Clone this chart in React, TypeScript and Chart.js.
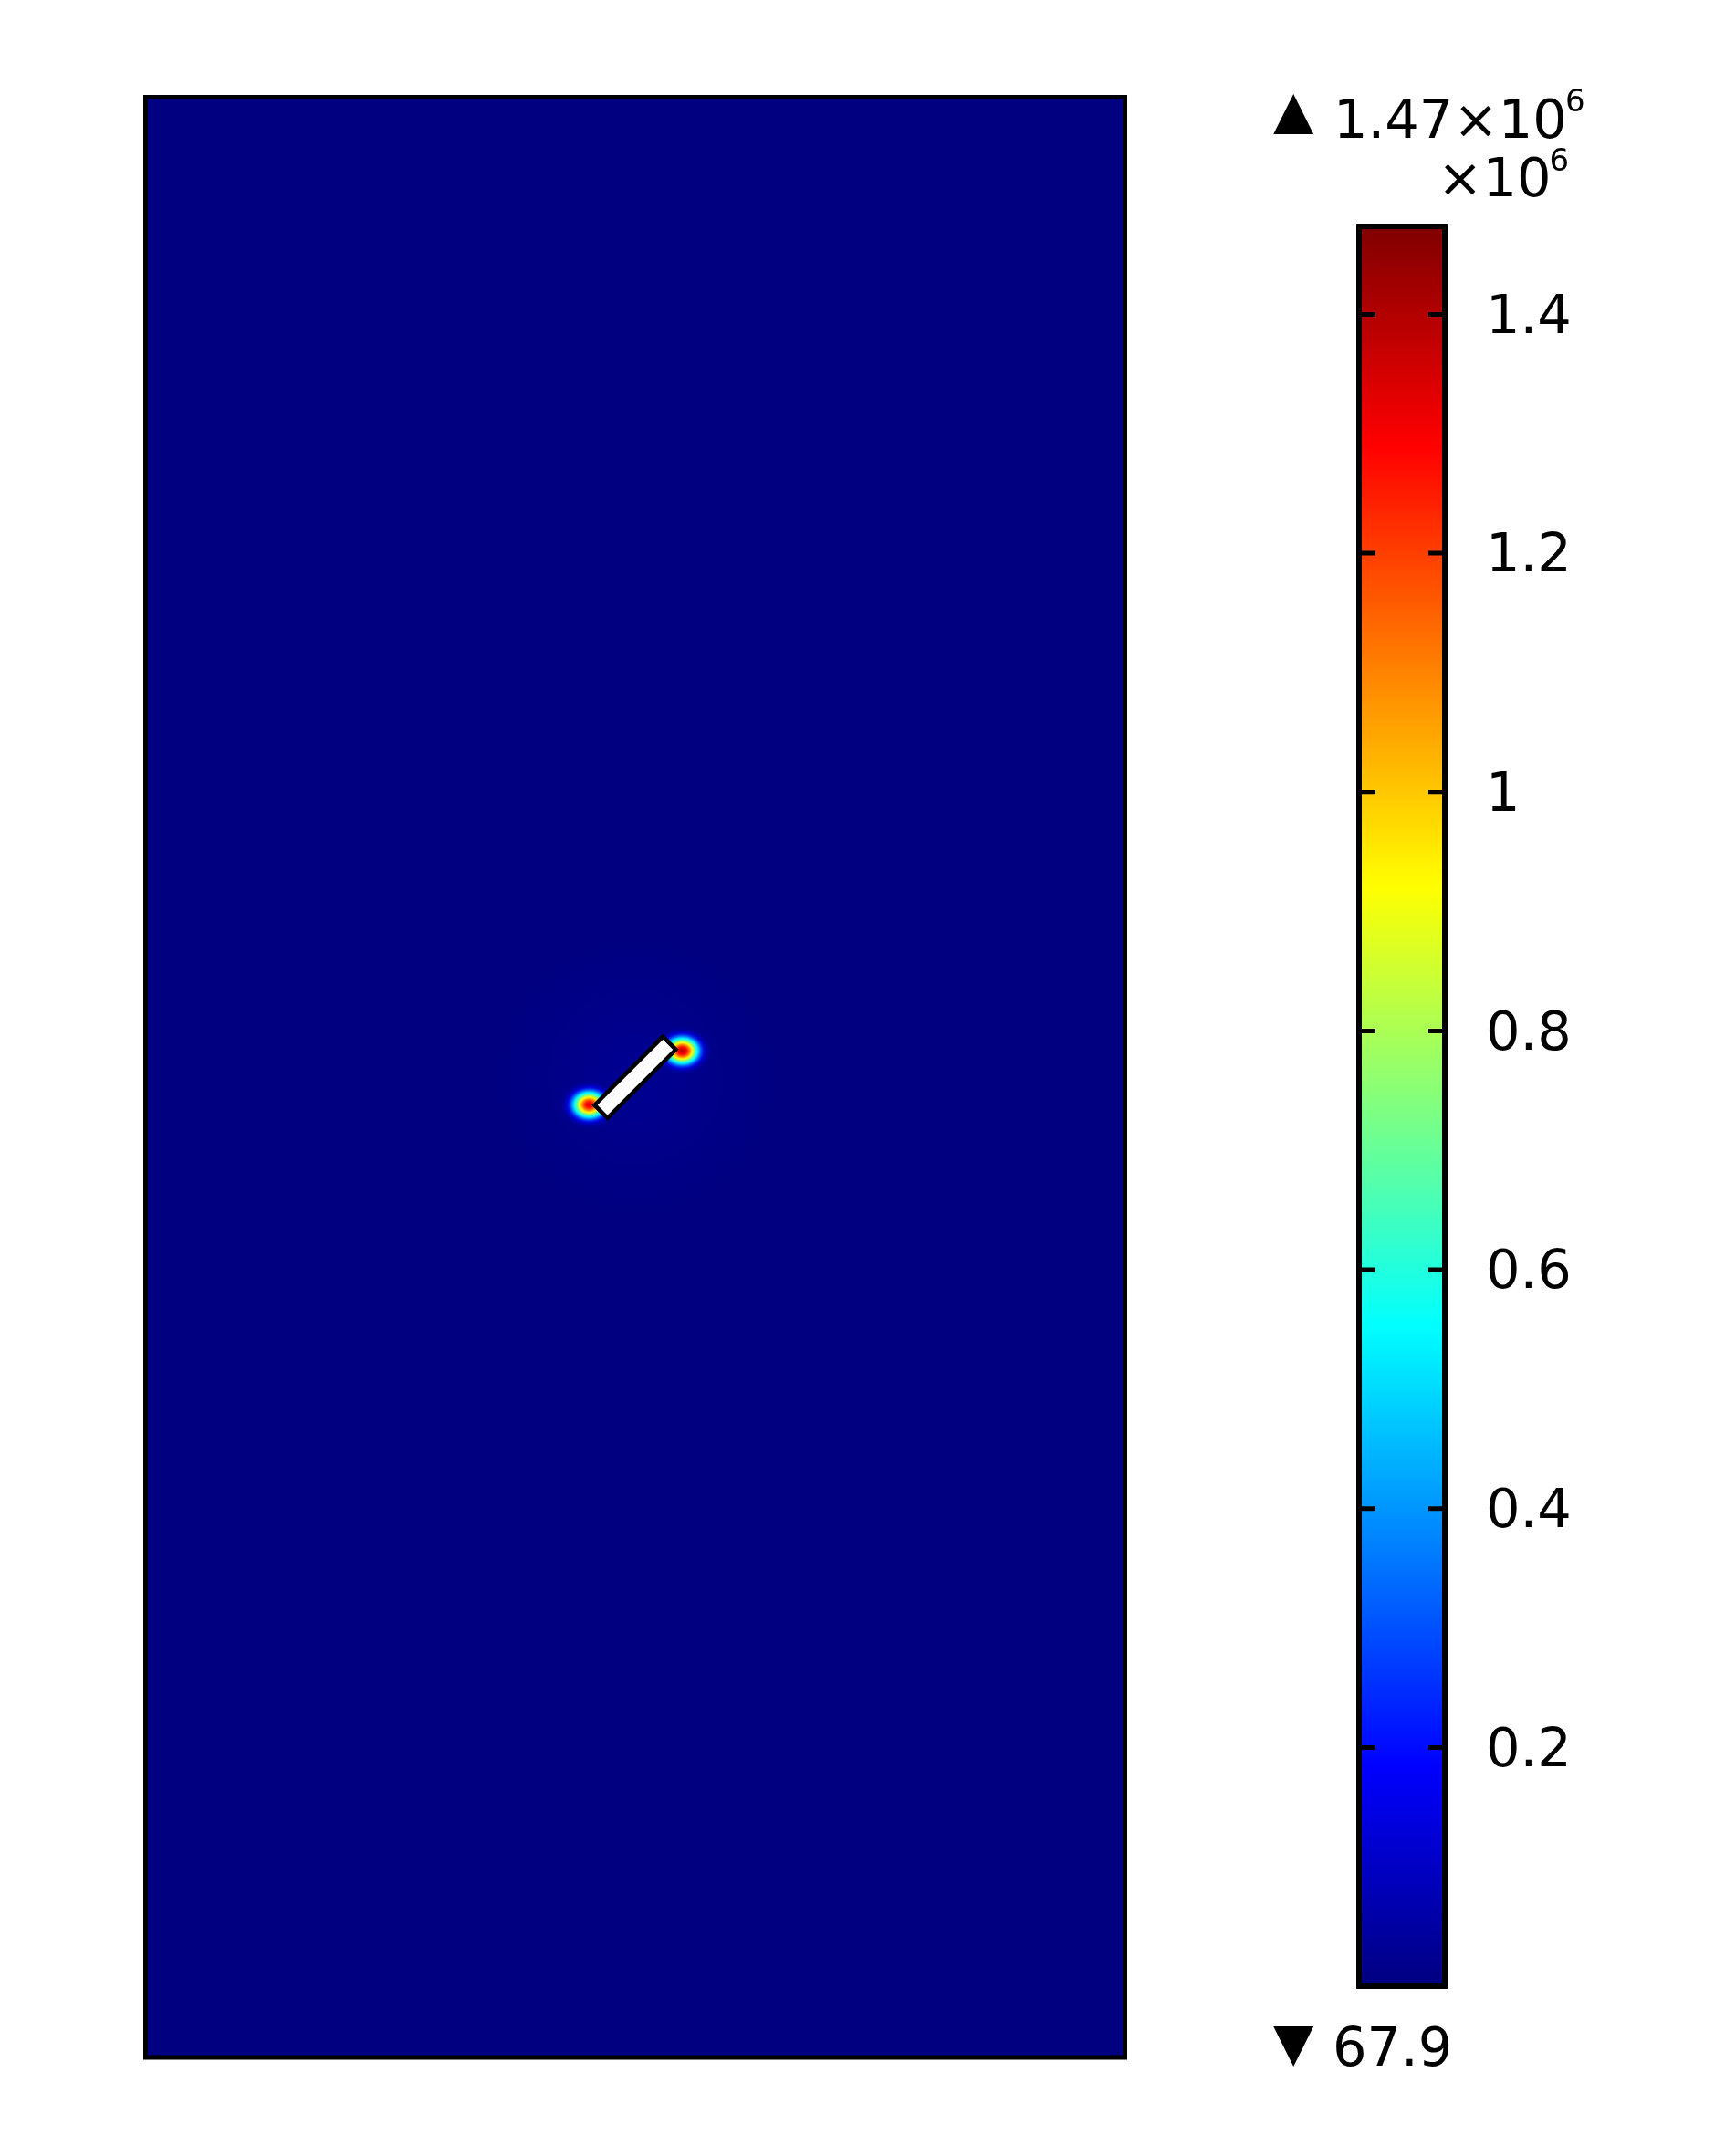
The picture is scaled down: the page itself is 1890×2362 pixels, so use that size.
import React, { useEffect, useRef } from "react";
import { Chart, registerables } from "chart.js";

Chart.register(...registerables);

// ---------- data ----------
// model domain (data units)
const X_MIN = -0.5;
const X_MAX = 0.5;
const Y_MIN = -1;
const Y_MAX = 1;

// inclined crack (rectangle corners: top, right, bottom, left)
const CRACK_X = [0.0283, 0.0415, -0.0283, -0.0415];
const CRACK_Y = [0.0415, 0.0283, -0.0415, -0.0283];

// stress concentrations (weak far-field halo + crack tips)
const SPOT_X = [0, 0.048, -0.047];
const SPOT_Y = [0, 0.027, -0.028];
const SPOT_PEAK = [0.025e6, 1.38e6, 1.32e6];
const SPOT_RX = [0.2, 0.032, 0.032];
const SPOT_RY = [0.2, 0.026, 0.026];

const FIELD_BASE = 67.9;

// colour legend
const CB_MIN = 67.9;
const CB_MAX = 1.4737e6;
const CB_TICKS = [0.2e6, 0.4e6, 0.6e6, 0.8e6, 1.0e6, 1.2e6, 1.4e6];
const CB_TICK_LABELS = ["0.2", "0.4", "0.6", "0.8", "1", "1.2", "1.4"];
const MAX_LABEL = "1.47×10";
const EXP_UNIT = "×10";
const EXP_POWER = "6";
const MIN_LABEL = "67.9";

// ---------- helpers ----------
const W = 1890;
const H = 2362;
const FONT = "'DejaVu Sans', sans-serif";

function clamp01(v: number) {
  return Math.max(0, Math.min(1, v));
}
function jet(t: number, a = 1) {
  t = clamp01(t);
  const r = clamp01(1.5 - Math.abs(4 * t - 3));
  const g = clamp01(1.5 - Math.abs(4 * t - 2));
  const b = clamp01(1.5 - Math.abs(4 * t - 1));
  return `rgba(${Math.round(r * 255)},${Math.round(g * 255)},${Math.round(b * 255)},${a})`;
}
const norm = (v: number) => (v - CB_MIN) / (CB_MAX - CB_MIN);

const fieldPlugin = {
  id: "field",
  beforeDatasetsDraw(chart: any) {
    const { ctx, chartArea: a, scales } = chart;
    const xs = scales.x;
    const ys = scales.y;
    ctx.save();
    ctx.beginPath();
    ctx.rect(a.left, a.top, a.right - a.left, a.bottom - a.top);
    ctx.clip();
    ctx.fillStyle = jet(norm(FIELD_BASE));
    ctx.fillRect(a.left, a.top, a.right - a.left, a.bottom - a.top);
    SPOT_X.forEach((sx, i) => {
      const cx = xs.getPixelForValue(sx);
      const cy = ys.getPixelForValue(SPOT_Y[i]);
      const rx = Math.abs(xs.getPixelForValue(sx + SPOT_RX[i]) - cx);
      const ry = Math.abs(ys.getPixelForValue(SPOT_Y[i] + SPOT_RY[i]) - cy);
      ctx.save();
      ctx.translate(cx, cy);
      ctx.scale(1, ry / rx);
      const g = ctx.createRadialGradient(0, 0, 0, 0, 0, rx);
      const N = 48;
      for (let k = 0; k <= N; k++) {
        const t = k / N;
        const f = Math.exp(-Math.pow(t / 0.5, 2));
        const v = FIELD_BASE + (SPOT_PEAK[i] - FIELD_BASE) * f;
        g.addColorStop(t, jet(norm(v), clamp01((1 - t) / 0.45)));
      }
      ctx.fillStyle = g;
      ctx.beginPath();
      ctx.arc(0, 0, rx, 0, Math.PI * 2);
      ctx.fill();
      ctx.restore();
    });
    ctx.restore();
  },
  afterDraw(chart: any) {
    const { ctx, chartArea: a } = chart;
    ctx.save();
    ctx.strokeStyle = "#000";
    ctx.lineWidth = 5;
    ctx.strokeRect(a.left, a.top, a.right - a.left, a.bottom - a.top);
    ctx.restore();
  },
};

function drawGlyphAt(ctx: any, text: string, size: number, left: number, bottom: number, fitW?: number) {
  let s = size;
  ctx.font = `${s}px ${FONT}`;
  let m = ctx.measureText(text);
  if (fitW) {
    const w = m.actualBoundingBoxLeft + m.actualBoundingBoxRight;
    s = (size * fitW) / w;
    ctx.font = `${s}px ${FONT}`;
    m = ctx.measureText(text);
  }
  const x = left + m.actualBoundingBoxLeft;
  const y = bottom - m.actualBoundingBoxDescent;
  ctx.fillText(text, x, y);
  return x + m.width;
}

const colorbarPlugin = {
  id: "colorbar",
  afterDatasetsDraw(chart: any) {
    const { ctx, chartArea: a, scales } = chart;
    const ys = scales.y;
    ctx.save();
    ctx.strokeStyle = "#000";
    ctx.lineWidth = 5;
    CB_TICKS.forEach((v) => {
      const y = ys.getPixelForValue(v);
      ctx.beginPath();
      ctx.moveTo(a.left, y);
      ctx.lineTo(a.left + 18, y);
      ctx.moveTo(a.right - 18, y);
      ctx.lineTo(a.right, y);
      ctx.stroke();
    });
    ctx.lineWidth = 6;
    ctx.strokeRect(a.left, a.top, a.right - a.left, a.bottom - a.top);
    ctx.restore();
  },
  afterDraw(chart: any) {
    const { ctx } = chart;
    ctx.save();
    ctx.fillStyle = "#000";
    ctx.textAlign = "left";
    ctx.textBaseline = "alphabetic";
    // top: max value
    drawGlyphAt(ctx, "▲", 59, 1395, 148, 45);
    ctx.font = `59px ${FONT}`;
    let m = ctx.measureText(MAX_LABEL);
    let x = 1467 + m.actualBoundingBoxLeft;
    ctx.fillText(MAX_LABEL, x, 151);
    let xe = x + m.width;
    ctx.font = `34px ${FONT}`;
    ctx.fillText(EXP_POWER, xe - 2, 122);
    // multiplier line
    ctx.font = `59px ${FONT}`;
    m = ctx.measureText(EXP_UNIT);
    x = 1583 + m.actualBoundingBoxLeft;
    ctx.fillText(EXP_UNIT, x, 215);
    xe = x + m.width;
    ctx.font = `34px ${FONT}`;
    ctx.fillText(EXP_POWER, xe - 2, 187);
    // bottom: min value
    drawGlyphAt(ctx, "▼", 59, 1395, 2265, 45);
    ctx.font = `59px ${FONT}`;
    m = ctx.measureText(MIN_LABEL);
    ctx.fillText(MIN_LABEL, 1464 + m.actualBoundingBoxLeft, 2263);
    ctx.restore();
  },
};

export default function App() {
  const fieldRef = useRef<HTMLCanvasElement>(null);
  const cbRef = useRef<HTMLCanvasElement>(null);

  useEffect(() => {
    const crackPts = CRACK_X.map((x, i) => ({ x, y: CRACK_Y[i] }));
    crackPts.push({ ...crackPts[0] });

    const field = new Chart(fieldRef.current as HTMLCanvasElement, {
      type: "scatter",
      data: {
        datasets: [
          {
            data: crackPts,
            showLine: true,
            fill: "shape",
            backgroundColor: "#ffffff",
            borderColor: "#000000",
            borderWidth: 4.5,
            borderCapStyle: "square",
            borderJoinStyle: "miter",
            pointRadius: 0,
            tension: 0,
          } as any,
        ],
      },
      options: {
        responsive: false,
        animation: false,
        devicePixelRatio: 1,
        events: [],
        layout: { padding: { left: 159.5, top: 106.5, right: W - 1232.5, bottom: H - 2254 } },
        scales: {
          x: { type: "linear", min: X_MIN, max: X_MAX, display: false },
          y: { type: "linear", min: Y_MIN, max: Y_MAX, display: false },
        },
        plugins: { legend: { display: false }, tooltip: { enabled: false } },
      } as any,
      plugins: [fieldPlugin],
    });

    const cb = new Chart(cbRef.current as HTMLCanvasElement, {
      type: "bar",
      data: {
        labels: [""],
        datasets: [
          {
            data: [[CB_MIN, CB_MAX]],
            barPercentage: 1,
            categoryPercentage: 1,
            borderWidth: 0,
            backgroundColor: (c: any) => {
              const ch = c.chart;
              const a = ch.chartArea;
              if (!a) return jet(0.5);
              const ys = ch.scales.y;
              const y0 = ys.getPixelForValue(CB_MIN);
              const y1 = ys.getPixelForValue(CB_MAX);
              const g = ch.ctx.createLinearGradient(0, y0, 0, y1);
              for (let k = 0; k <= 32; k++) g.addColorStop(k / 32, jet(k / 32));
              return g;
            },
          } as any,
        ],
      },
      options: {
        responsive: false,
        animation: false,
        devicePixelRatio: 1,
        events: [],
        layout: { padding: { left: 1489, top: 248, right: W - 1583 - 250, bottom: H - 2176 } },
        scales: {
          x: { display: false },
          y: {
            type: "linear",
            position: "right",
            min: CB_MIN,
            max: CB_MAX,
            grid: { display: false, drawTicks: false, tickLength: 0 },
            border: { display: false },
            ticks: {
              color: "#000",
              padding: 45,
              labelOffset: 5,
              font: { family: FONT, size: 59 },
              callback: (_v: any, i: number) => CB_TICK_LABELS[i],
            },
            afterBuildTicks: (s: any) => {
              s.ticks = CB_TICKS.map((v) => ({ value: v }));
            },
            afterFit: (s: any) => {
              s.width = 250;
            },
          },
        },
        plugins: { legend: { display: false }, tooltip: { enabled: false } },
      } as any,
      plugins: [colorbarPlugin],
    });

    return () => {
      field.destroy();
      cb.destroy();
    };
  }, []);

  const cs: React.CSSProperties = { position: "absolute", left: 0, top: 0, width: W, height: H };
  return (
    <div style={{ position: "absolute", left: 0, top: 0, width: W, height: H, background: "#fff" }}>
      <canvas ref={fieldRef} width={W} height={H} style={cs} />
      <canvas ref={cbRef} width={W} height={H} style={cs} />
    </div>
  );
}
